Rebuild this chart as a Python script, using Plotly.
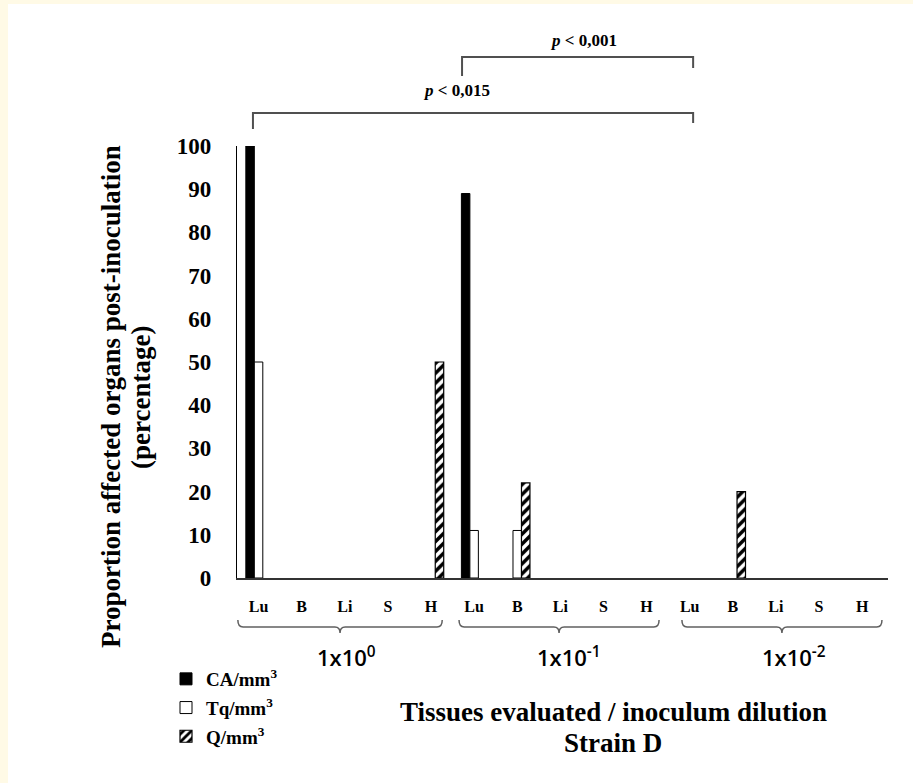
import plotly.graph_objects as go

# ---------------- data ----------------
tissues = ["Lu", "B", "Li", "S", "H"]
dilutions = ["1x10<sup>0</sup>", "1x10<sup>-1</sup>", "1x10<sup>-2</sup>"]
categories = [f"{t}_{d}" for d in range(3) for t in tissues]
tick_text = tissues * 3

ca_values = [100, 0, 0, 0, 0, 89, 0, 0, 0, 0, 0, 0, 0, 0, 0]
tq_values = [50, 0, 0, 0, 0, 11, 11, 0, 0, 0, 0, 0, 0, 0, 0]
q_values = [0, 0, 0, 0, 50, 0, 22, 0, 0, 0, 0, 20, 0, 0, 0]

series_names = ["CA/mm<sup>3</sup>", "Tq/mm<sup>3</sup>", "Q/mm<sup>3</sup>"]
y_ticks = list(range(0, 101, 10))

# significance brackets (category index positions, label)
brackets = [
    dict(x0=-0.13, x1=10.08, label="<b><i>p</i> &lt; 0,015</b>", lx=4.6),
    dict(x0=4.72, x1=10.08, label="<b><i>p</i> &lt; 0,001</b>", lx=7.53),
]
# group braces (category index positions) and label centres
brace_left = [-0.48, 4.65, 9.82]
brace_right = [4.26, 9.29, 14.46]
group_label_x = [2.05, 7.2, 12.42]

SERIF = "Liberation Serif"


def hide_zero(vals):
    return [v if v != 0 else None for v in vals]


fig = go.Figure()
fig.add_trace(go.Bar(x=categories, y=hide_zero(ca_values), name=series_names[0], legendgroup="a",
                     marker=dict(color="black", line=dict(color="black", width=1))))
fig.add_trace(go.Bar(x=categories, y=hide_zero(tq_values), name=series_names[1], legendgroup="b",
                     marker=dict(color="white", line=dict(color="black", width=1))))
fig.add_trace(go.Bar(x=categories, y=hide_zero(q_values), name=series_names[2], legendgroup="c",
                     marker=dict(color="white", line=dict(color="black", width=1.2),
                                 pattern=dict(shape="/", fgcolor="black", bgcolor="white",
                                              fgopacity=1, size=7, solidity=0.5))))

W, H = 913, 783
L, R, T, B = 237, 25, 146, 205
pw, ph = W - L - R, H - T - B


def px_x(px):
    return (px - L) / pw


def px_y(py):
    return (H - B - py) / ph


shapes = []
# cream border strips of the page
shapes.append(dict(type="rect", xref="paper", yref="paper", x0=px_x(0), x1=px_x(8),
                   y0=px_y(H), y1=px_y(0), fillcolor="#fffae6", line=dict(width=0), layer="below"))
shapes.append(dict(type="rect", xref="paper", yref="paper", x0=px_x(0), x1=px_x(W),
                   y0=px_y(4), y1=px_y(0), fillcolor="#fffae6", line=dict(width=0), layer="below"))

annotations = []
# brackets
br_geom = [(px_y(113), px_y(129), px_y(123), px_y(90)),
           (px_y(57), px_y(76), px_y(68), px_y(41))]
for br, (ytop, yl, yr, ylab) in zip(brackets, br_geom):
    path = f"M {br['x0']},{yl} L {br['x0']},{ytop} L {br['x1']},{ytop} L {br['x1']},{yr}"
    shapes.append(dict(type="path", xref="x", yref="paper", path=path,
                       line=dict(color="#505050", width=2)))
    annotations.append(dict(x=br["lx"], y=ylab, xref="x", yref="paper", text=br["label"],
                            showarrow=False, font=dict(family=SERIF, size=17, color="black"),
                            xanchor="center", yanchor="middle"))

# braces under each dilution group
yt, ym, yb = px_y(620), px_y(627), px_y(633)
for g in range(3):
    x0, x1 = brace_left[g], brace_right[g]
    xc = (x0 + x1) / 2
    d = 0.12
    path = (f"M {x0},{yt} Q {x0},{ym} {x0+d},{ym} L {xc-d},{ym} Q {xc},{ym} {xc},{yb} "
            f"Q {xc},{ym} {xc+d},{ym} L {x1-d},{ym} Q {x1},{ym} {x1},{yt}")
    shapes.append(dict(type="path", xref="x", yref="paper", path=path,
                       line=dict(color="#606060", width=1.5)))
    annotations.append(dict(x=group_label_x[g], y=px_y(656), xref="x", yref="paper", text=dilutions[g],
                            showarrow=False,
                            font=dict(family="Open Sans", size=22, color="black", weight=600),
                            xanchor="center", yanchor="middle"))

# y-axis title (two lines)
annotations.append(dict(x=px_x(111), y=px_y(397), xref="paper", yref="paper",
                        text="<b>Proportion affected organs post-inoculation</b>",
                        textangle=-90, showarrow=False,
                        font=dict(family=SERIF, size=27, color="black"),
                        xanchor="center", yanchor="middle"))
annotations.append(dict(x=px_x(141), y=px_y(398), xref="paper", yref="paper",
                        text="<b>(percentage)</b>",
                        textangle=-90, showarrow=False,
                        font=dict(family=SERIF, size=27, color="black"),
                        xanchor="center", yanchor="middle"))
# x-axis title
annotations.append(dict(x=px_x(613), y=px_y(712), xref="paper", yref="paper",
                        text="<b>Tissues evaluated / inoculum dilution</b>",
                        showarrow=False, font=dict(family=SERIF, size=27, color="black"),
                        xanchor="center", yanchor="middle"))
annotations.append(dict(x=px_x(613), y=px_y(743), xref="paper", yref="paper",
                        text="<b>Strain D</b>",
                        showarrow=False, font=dict(family=SERIF, size=27, color="black"),
                        xanchor="center", yanchor="middle"))

fig.update_layout(
    width=W, height=H,
    margin=dict(l=L, r=R, t=T, b=B, pad=0),
    paper_bgcolor="white", plot_bgcolor="white",
    barmode="group", bargap=0.41, bargroupgap=0,
    showlegend=True,
    legend=dict(x=px_x(166), y=px_y(660), xanchor="left", yanchor="top",
                font=dict(family=SERIF, size=19, color="black", weight="bold"),
                bgcolor="rgba(0,0,0,0)", itemclick=False, tracegroupgap=1,
                itemwidth=30),
    shapes=shapes, annotations=annotations,
    xaxis=dict(type="category", categoryorder="array", categoryarray=categories,
               tickmode="array", tickvals=categories, ticktext=[f"<b>{t}</b>" for t in tick_text],
               tickfont=dict(family=SERIF, size=16, color="black"),
               showline=True, linecolor="#333333", linewidth=2, showgrid=False,
               ticks="", ticklabelstandoff=13, zeroline=False,
               range=[-0.5, 14.6]),
    yaxis=dict(range=[0, 100], tickmode="array", tickvals=y_ticks,
               ticktext=[f"<b>{v}</b>" for v in y_ticks],
               tickfont=dict(family=SERIF, size=23, color="black"),
               showline=True, linecolor="black", linewidth=1.2, showgrid=False,
               ticks="", ticklabelstandoff=20, zeroline=False),
)

fig.write_html("out.html")
